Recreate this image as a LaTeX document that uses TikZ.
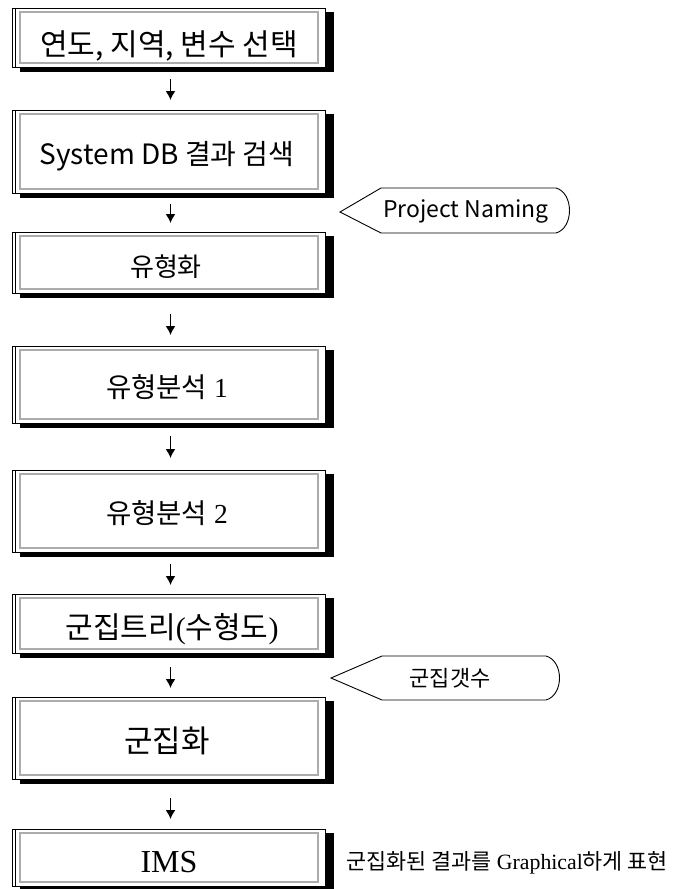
\documentclass[tikz,border=0pt]{standalone}
\usepackage{fontspec}
\setmainfont{Liberation Serif}
\newfontfamily\kr{Noto Sans CJK KR}
\usetikzlibrary{arrows.meta}
\tikzset{
  outerbox/.style={draw=black, line width=1pt, fill=white, minimum width=313pt, anchor=north west, inner sep=0pt},
  innerline/.style={draw=gray!65, line width=1.2pt},
  shadowfill/.style={fill=black},
  flowarrow/.style={-{Latex[length=9pt,width=10pt]}, line width=1.5pt},
  callout/.style={draw=black, line width=0.9pt, fill=white},
  boxtext/.style={inner sep=0pt},
}
\newcommand{\flowbox}[3]{%
  \fill[shadowfill] (20,#2+4) rectangle (334,#3+5);
  \node[outerbox, minimum height={(#3-#2)*1pt}] (#1) at (12,#2) {};
  \draw[innerline] (20,#2+4) rectangle (318,#3-4);
  \draw[line width=1pt] (15.5,#2) -- (15.5,#3);
}
\begin{document}
\begin{tikzpicture}[x=1pt,y=-1pt]
\useasboundingbox[fill=white] (0,0) rectangle (680,889);

\flowbox{b1}{8}{67}
\flowbox{b2}{110}{193}
\flowbox{b3}{232}{293}
\flowbox{b4}{346}{423}
\flowbox{b5}{470}{552}
\flowbox{b6}{594}{653}
\flowbox{b7}{697}{779}
\flowbox{b8}{829}{886}

\node[boxtext, font=\kr\fontsize{30}{33}\selectfont] (t1) at (169,46) {연도, 지역, 변수 선택};
\node[boxtext, font=\kr\fontsize{28}{31}\selectfont] (t2) at (167,156) {System DB 결과 검색};
\node[boxtext, font=\kr\fontsize{26}{29}\selectfont] (t3) at (166,267) {유형화};
\node[boxtext, font=\fontsize{27.5}{30}\selectfont] (t4) at (167,387) {{\kr 유형분석} 1};
\node[boxtext, font=\fontsize{27.5}{30}\selectfont] (t5) at (167,513) {{\kr 유형분석} 2};
\node[boxtext, font=\fontsize{30}{33}\selectfont] (t6) at (172,629) {{\kr 군집트리}({\kr 수형도})};
\node[boxtext, font=\kr\fontsize{31}{34}\selectfont] (t7) at (167,741) {군집화};
\node[boxtext, font=\fontsize{32}{35}\selectfont] (t8) at (169,862) {IMS};

\draw[flowarrow, shorten <=11pt, shorten >=10pt] ([xshift=1.5pt]b1.south) -- ([xshift=1.5pt]b2.north);
\draw[flowarrow, shorten <=10pt, shorten >=9pt] ([xshift=1.5pt]b2.south) -- ([xshift=1.5pt]b3.north);
\draw[flowarrow, shorten <=20pt, shorten >=11pt] ([xshift=1.5pt]b3.south) -- ([xshift=1.5pt]b4.north);
\draw[flowarrow, shorten <=12pt, shorten >=12pt] ([xshift=1.5pt]b4.south) -- ([xshift=1.5pt]b5.north);
\draw[flowarrow, shorten <=11pt, shorten >=9pt] ([xshift=1.5pt]b5.south) -- ([xshift=1.5pt]b6.north);
\draw[flowarrow, shorten <=13pt, shorten >=9pt] ([xshift=1.5pt]b6.south) -- ([xshift=1.5pt]b7.north);
\draw[flowarrow, shorten <=18pt, shorten >=10pt] ([xshift=1.5pt]b7.south) -- ([xshift=1.5pt]b8.north);

\draw[callout] (340,212) -- (381,188) -- (556,188) .. controls (574,193) and (574,228) .. (556,233) -- (381,233) -- cycle;
\node[boxtext, font=\kr\fontsize{23}{26}\selectfont] (pn) at (466,211) {Project Naming};

\draw[callout] (331,678) -- (382,656) -- (546,656) .. controls (564,661) and (564,695) .. (546,700) -- (382,700) -- cycle;
\node[boxtext, font=\kr\fontsize{22}{25}\selectfont] (gc) at (450,678) {군집갯수};

\node[boxtext, anchor=west, font=\fontsize{21.8}{24}\selectfont] (note) at (346,863) {{\kr 군집화된 결과를} Graphical{\kr 하게 표현}};
\end{tikzpicture}
\end{document}
